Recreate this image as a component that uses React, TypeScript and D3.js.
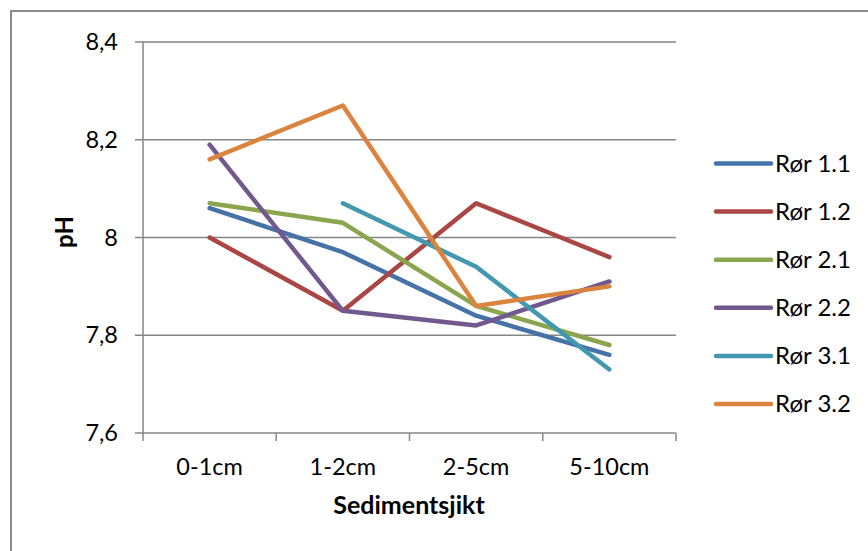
import React from "react";
import * as d3 from "d3";

// Sediment layers (x categories)
const layers = ["0-1cm", "1-2cm", "2-5cm", "5-10cm"];

// pH per core, one value per layer (null = not measured)
const ror11 = [8.06, 7.97, 7.84, 7.76];
const ror12 = [8.0, 7.85, 8.07, 7.96];
const ror21 = [8.07, 8.03, 7.86, 7.78];
const ror22 = [8.19, 7.85, 7.82, 7.91];
const ror31 = [null, 8.07, 7.94, 7.73];
const ror32 = [8.16, 8.27, 7.86, 7.9];

const seriesNames = ["Rør 1.1", "Rør 1.2", "Rør 2.1", "Rør 2.2", "Rør 3.1", "Rør 3.2"];
const seriesValues: (number | null)[][] = [ror11, ror12, ror21, ror22, ror31, ror32];
const seriesColors = ["#4572A7", "#AA4643", "#89A54E", "#71588F", "#4198AF", "#DB843D"];

const yTicks = [7.6, 7.8, 8.0, 8.2, 8.4];

const W = 868;
const H = 551;
const plot = { left: 143, right: 676, top: 42, bottom: 433 };
const FONT = "Lato, 'Open Sans', sans-serif";
const GRID = "#868686";

const fmt = (v: number) => {
  const s = Number.isInteger(v) ? String(v) : v.toFixed(1);
  return s.replace(".", ",");
};

export default function App() {
  const x = d3.scaleBand<string>().domain(layers).range([plot.left, plot.right]).padding(0);
  const y = d3.scaleLinear().domain([7.6, 8.4]).range([plot.bottom, plot.top]);
  const cx = (c: string) => (x(c) as number) + x.bandwidth() / 2;

  const line = d3
    .line<number | null>()
    .defined((d) => d !== null)
    .x((_, i) => cx(layers[i]))
    .y((d) => y(d as number));

  const boundaries = [...layers.map((c) => x(c) as number), plot.right];

  const legendX = 716;
  const legendY0 = 163.5;
  const legendStep = 48.1;

  return (
    <svg
      width={W}
      height={H}
      style={{ position: "absolute", left: 0, top: 0, background: "#fff" }}
      fontFamily={FONT}
    >
      {/* chart frame */}
      <path d={`M11,${H} V11 H${W}`} fill="none" stroke="#8a8a8a" strokeWidth={2} />

      {/* horizontal gridlines and y tick labels */}
      {yTicks.map((t) => (
        <g key={t}>
          <line x1={plot.left - 8} x2={plot.right} y1={y(t)} y2={y(t)} stroke={GRID} strokeWidth={1.5} />
          <text x={118} y={y(t)} dy="0.35em" textAnchor="end" fontSize={23.5} fill="#000">
            {fmt(t)}
          </text>
        </g>
      ))}

      {/* y axis */}
      <line x1={plot.left} x2={plot.left} y1={plot.top} y2={plot.bottom} stroke={GRID} strokeWidth={1.5} />

      {/* category tick marks */}
      {boundaries.map((b, i) => (
        <line key={i} x1={b} x2={b} y1={plot.bottom} y2={plot.bottom + 8} stroke={GRID} strokeWidth={1.5} />
      ))}

      {/* x tick labels */}
      {layers.map((c) => (
        <text key={c} x={cx(c)} y={475} textAnchor="middle" fontSize={23.5} fill="#000">
          {c}
        </text>
      ))}

      {/* axis titles */}
      <text x={409} y={514} textAnchor="middle" fontSize={25} fontWeight="bold" fill="#000">
        Sedimentsjikt
      </text>
      <text
        transform="translate(73,232) rotate(-90)"
        textAnchor="middle"
        fontSize={24}
        fontWeight="bold"
        fill="#000"
      >
        pH
      </text>

      {/* series lines */}
      {seriesValues.map((vals, i) => (
        <path
          key={seriesNames[i]}
          d={line(vals) || ""}
          fill="none"
          stroke={seriesColors[i]}
          strokeWidth={4.5}
          strokeLinejoin="round"
          strokeLinecap="round"
        />
      ))}

      {/* legend */}
      {seriesNames.map((n, i) => {
        const ly = legendY0 + i * legendStep;
        return (
          <g key={n}>
            <line
              x1={legendX}
              x2={legendX + 55}
              y1={ly}
              y2={ly}
              stroke={seriesColors[i]}
              strokeWidth={4.5}
              strokeLinecap="round"
            />
            <text x={775} y={ly} dy="0.35em" fontSize={24} fill="#000">
              {n}
            </text>
          </g>
        );
      })}
    </svg>
  );
}
